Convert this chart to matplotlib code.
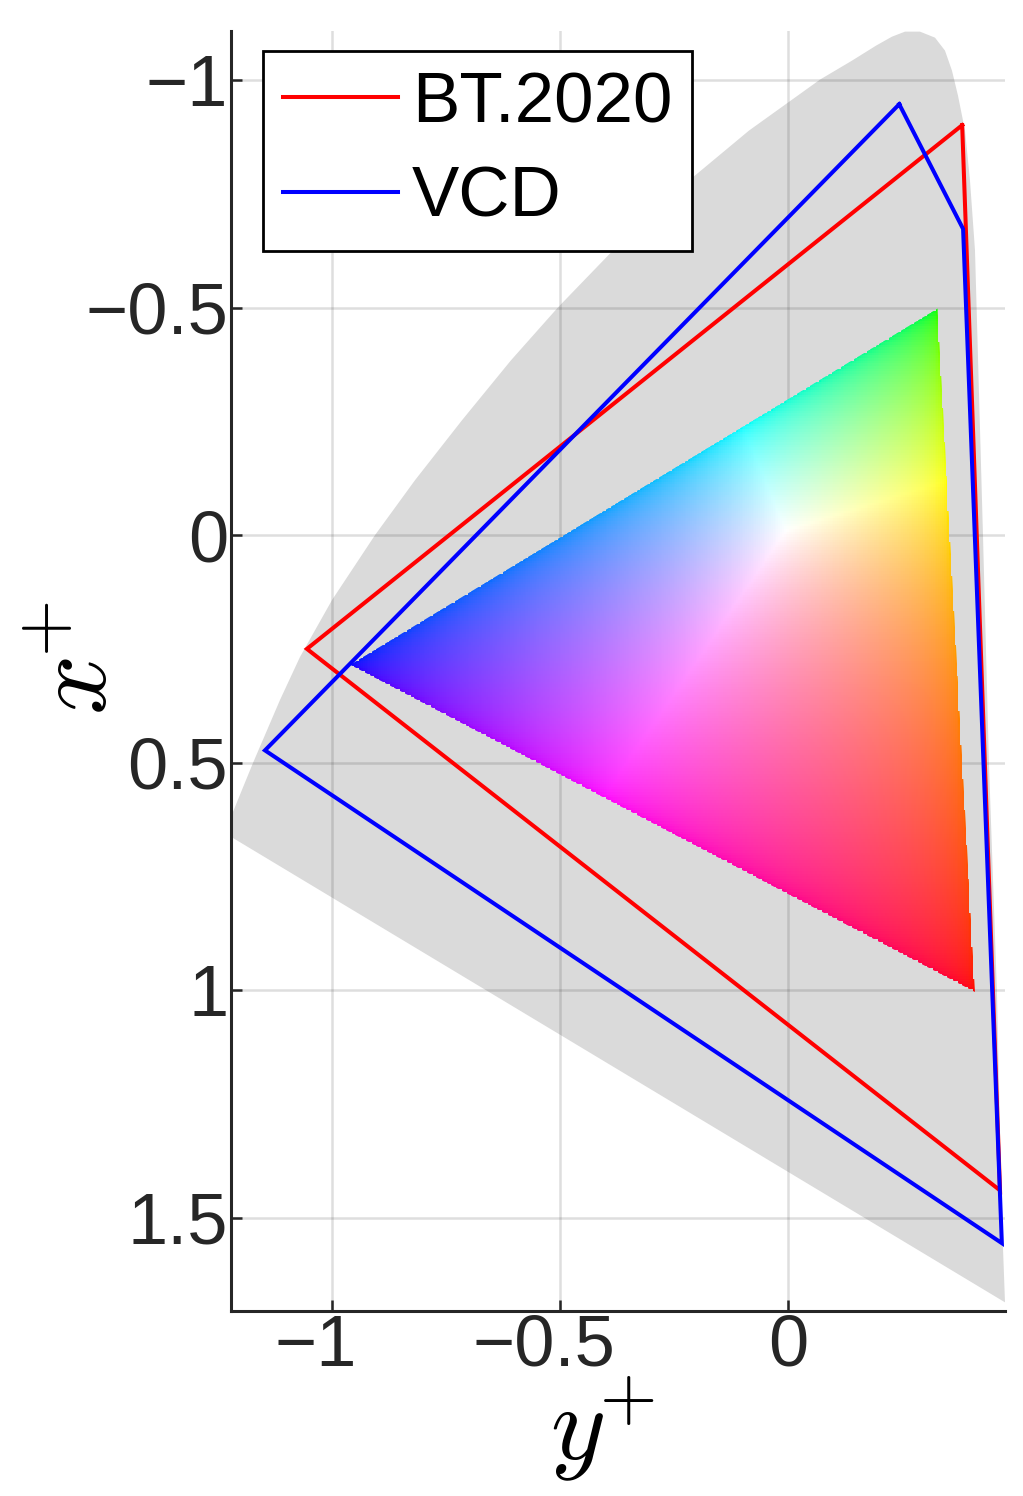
import numpy as np
import matplotlib
matplotlib.use("Agg")
import matplotlib.pyplot as plt
import matplotlib.transforms as mtransforms
from matplotlib.patches import Polygon

# ---------------- data (y+ horizontal, x+ vertical) ----------------
locus_yplus = [-1.2215, -1.1974, -1.1732, -1.1140, -1.0702, -1.0000, -0.9057, -0.8180,
               -0.7149, -0.6075, -0.5044, -0.3838, -0.2434, -0.0855, 0.0702, 0.1404,
               0.1930, 0.2281, 0.2566, 0.2895, 0.3224, 0.3443, 0.3596, 0.3728, 0.3882,
               0.3991, 0.4101, 0.4276, 0.4408, 0.4583, 0.4693, 0.4759, -1.2215]
locus_xplus = [0.6191, 0.5598, 0.5005, 0.3622, 0.2678, 0.1427, 0.0, -0.1207,
               -0.2525, -0.3842, -0.5005, -0.6257, -0.7574, -0.8891, -1.0011, -1.0428,
               -1.0757, -1.0955, -1.1065, -1.1065, -1.0933, -1.0648, -1.0209, -0.9660, -0.8891,
               -0.7794, -0.6257, 0.0, 0.5049, 1.0055, 1.5060, 1.6861, 0.6630]

bt2020_yplus = [0.382, -1.055, 0.465, 0.382]
bt2020_xplus = [-0.901, 0.250, 1.440, -0.901]

vcd_yplus = [0.244, 0.384, 0.469, -1.147, 0.244]
vcd_xplus = [-0.947, -0.673, 1.556, 0.473, -0.947]

# colored triangle primaries (R, G, B) and white point
rgb_yplus = [0.410, 0.328, -0.960]
rgb_xplus = [1.004, -0.498, 0.285]
white_yplus, white_xplus = -0.004, -0.010

legend_labels = ["BT.2020", "VCD"]
xticks = [-1, -0.5, 0]
xtick_labels = ["\u22121", "\u22120.5", "0"]
yticks = [-1, -0.5, 0, 0.5, 1, 1.5]
ytick_labels = ["\u22121", "\u22120.5", "0", "0.5", "1", "1.5"]
xlim = (-1.2215, 0.4759)
ylim = (1.705, -1.108)

# ---------------- figure ----------------
plt.rcParams['font.family'] = ['Liberation Sans', 'DejaVu Sans']
plt.rcParams['mathtext.fontset'] = 'cm'

fig = plt.figure(figsize=(10.23, 14.96), dpi=100)
ax = fig.add_axes([0.2258, 0.1237, 0.9824 - 0.2258, 0.9793 - 0.1237])

ax.fill(locus_yplus, locus_xplus, color=(0.855, 0.855, 0.855), lw=0, zorder=1)

# colored triangle image
P = np.array([rgb_yplus, rgb_xplus]).T  # 3x2
Mtri = np.vstack([P.T, np.ones(3)])
s = np.linalg.solve(Mtri, np.array([white_yplus, white_xplus, 1.0]))
y0, y1 = min(rgb_yplus), max(rgb_yplus)
x0, x1 = min(rgb_xplus), max(rgb_xplus)
ny, nx = 260, 340
gy = np.linspace(y0, y1, nx)
gx = np.linspace(x0, x1, ny)
GY, GX = np.meshgrid(gy, gx)
pts = np.stack([GY.ravel(), GX.ravel(), np.ones(GY.size)])
bary = np.linalg.solve(Mtri, pts).T
inside = np.all(bary >= -1e-3, axis=1)
c = np.clip(bary, 0, None) / s
c = c / c.max(axis=1, keepdims=True)
c = c ** (1 / 2.2)
img = np.zeros((GY.size, 4))
img[:, :3] = np.clip(c, 0, 1)
img[:, 3] = inside.astype(float)
img = img.reshape(ny, nx, 4)
im = ax.imshow(img, extent=(y0, y1, x0, x1), origin='lower', interpolation='nearest',
               aspect='auto', zorder=3)
tri = Polygon(P, closed=True, transform=ax.transData, facecolor='none', edgecolor='none')
ax.add_patch(tri)
im.set_clip_path(tri)

ax.plot(bt2020_yplus, bt2020_xplus, color=(1, 0, 0), lw=2.9, zorder=4, label=legend_labels[0],
        solid_joinstyle='miter')
ax.plot(vcd_yplus, vcd_xplus, color=(0, 0, 1), lw=2.9, zorder=5, label=legend_labels[1],
        solid_joinstyle='miter')

ax.set_xlim(*xlim)
ax.set_ylim(*ylim)
ax.set_xticks(xticks)
ax.set_xticklabels(xtick_labels)
ax.set_yticks(yticks)
ax.set_yticklabels(ytick_labels)

ax.set_axisbelow(False)
ax.grid(True, color=(0.15, 0.15, 0.15), alpha=0.15, lw=1.8)
for sp in ['top', 'right']:
    ax.spines[sp].set_visible(False)
for sp in ['left', 'bottom']:
    ax.spines[sp].set_linewidth(2.2)
    ax.spines[sp].set_color((0.15, 0.15, 0.15))
ax.tick_params(direction='in', length=8, width=1.8, labelsize=52, pad=2,
               color=(0.15, 0.15, 0.15), labelcolor=(0.15, 0.15, 0.15))

# negative x tick labels sit slightly left of their ticks, as in the reference
shift = mtransforms.ScaledTranslation(-0.16, 0, fig.dpi_scale_trans)
for lab in ax.get_xticklabels():
    if lab.get_text().startswith("\u2212"):
        lab.set_transform(lab.get_transform() + shift)

ax.set_xlabel(r'$y^{\!\!+}$', fontsize=76)
ax.set_ylabel(r'$x^{\!\!+}$', fontsize=76)
ax.xaxis.set_label_coords(0.48, -0.05)
ax.yaxis.set_label_coords(-0.132, 0.51)

leg = ax.legend(loc='upper left', bbox_to_anchor=(0.0413, 0.984), borderaxespad=0,
                fontsize=51, handlelength=1.62, handletextpad=0.2, borderpad=0.28,
                labelspacing=0.40, fancybox=False, framealpha=1)
leg.get_frame().set_edgecolor('black')
leg.get_frame().set_linewidth(2.0)
leg.set_zorder(10)

fig.savefig('out.png', dpi=100)
